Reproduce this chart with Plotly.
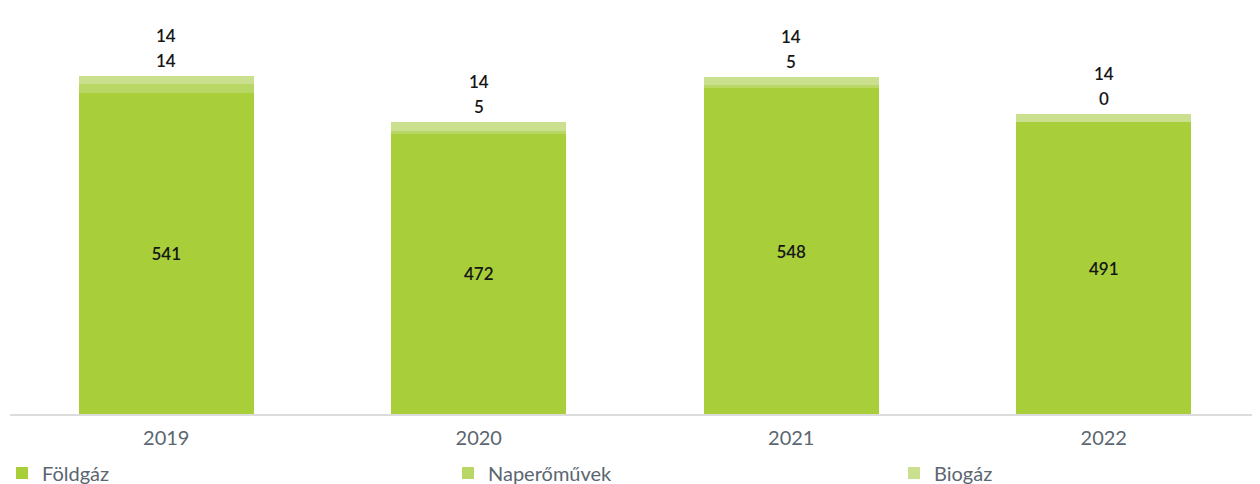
import plotly.graph_objects as go

years = ["2019", "2020", "2021", "2022"]
foldgaz = [541, 472, 548, 491]
naperomuvek = [14, 5, 5, 0]
biogaz = [14, 14, 14, 14]

series_names = ["Földgáz", "Naperőművek", "Biogáz"]
colors = ["#a8ce3a", "#b9d764", "#cbe08e"]

FONT = "Lato"
TXT = "#161616"
GREY = "#5b6670"

legend_ids = ["legend", "legend2", "legend3"]
legend_x = [-0.0064, 0.3504, 0.7072]

fig = go.Figure()
for name, vals, col, lg in zip(series_names, [foldgaz, naperomuvek, biogaz], colors, legend_ids):
    is_main = name == "Földgáz"
    fig.add_trace(go.Bar(
        x=years, y=vals, name=name, legend=lg,
        marker=dict(color=col, line=dict(width=0)),
        text=[str(v) for v in vals] if is_main else None,
        textposition="inside" if is_main else "none",
        insidetextanchor="middle",
        textfont=dict(family=FONT, size=17, color=TXT, weight=600),
        hoverinfo="x+y+name",
    ))

# labels of the thin segments, stacked above each bar (Biogáz on top)
for i, yr in enumerate(years):
    total = foldgaz[i] + naperomuvek[i] + biogaz[i]
    fig.add_annotation(x=i, y=total, text=str(naperomuvek[i]), showarrow=False,
                       yanchor="bottom", yshift=3,
                       font=dict(family=FONT, size=17, color=TXT, weight=600))
    fig.add_annotation(x=i, y=total, text=str(biogaz[i]), showarrow=False,
                       yanchor="bottom", yshift=28,
                       font=dict(family=FONT, size=17, color=TXT, weight=600))

legend_common = dict(orientation="h", xanchor="left", y=-0.098, yanchor="top",
                     font=dict(family=FONT, size=20, color=GREY),
                     bgcolor="rgba(0,0,0,0)", itemclick=False)

fig.update_layout(
    barmode="stack",
    bargap=0.44,
    width=1252, height=476,
    margin=dict(l=2, r=0, t=2, b=70, autoexpand=False),
    plot_bgcolor="white", paper_bgcolor="white",
    font=dict(family=FONT, color=GREY, size=18),
    showlegend=True,
    legend=dict(x=legend_x[0], **legend_common),
    legend2=dict(x=legend_x[1], **legend_common),
    legend3=dict(x=legend_x[2], **legend_common),
    xaxis=dict(type="category", showline=True, linecolor="#dcdcdc", linewidth=2, ticks="",
               ticklabelstandoff=5,
               tickfont=dict(family=FONT, size=20, color=GREY)),
    yaxis=dict(visible=False, range=[0, 680], showgrid=False, zeroline=False),
)

fig.write_html("out.html")
